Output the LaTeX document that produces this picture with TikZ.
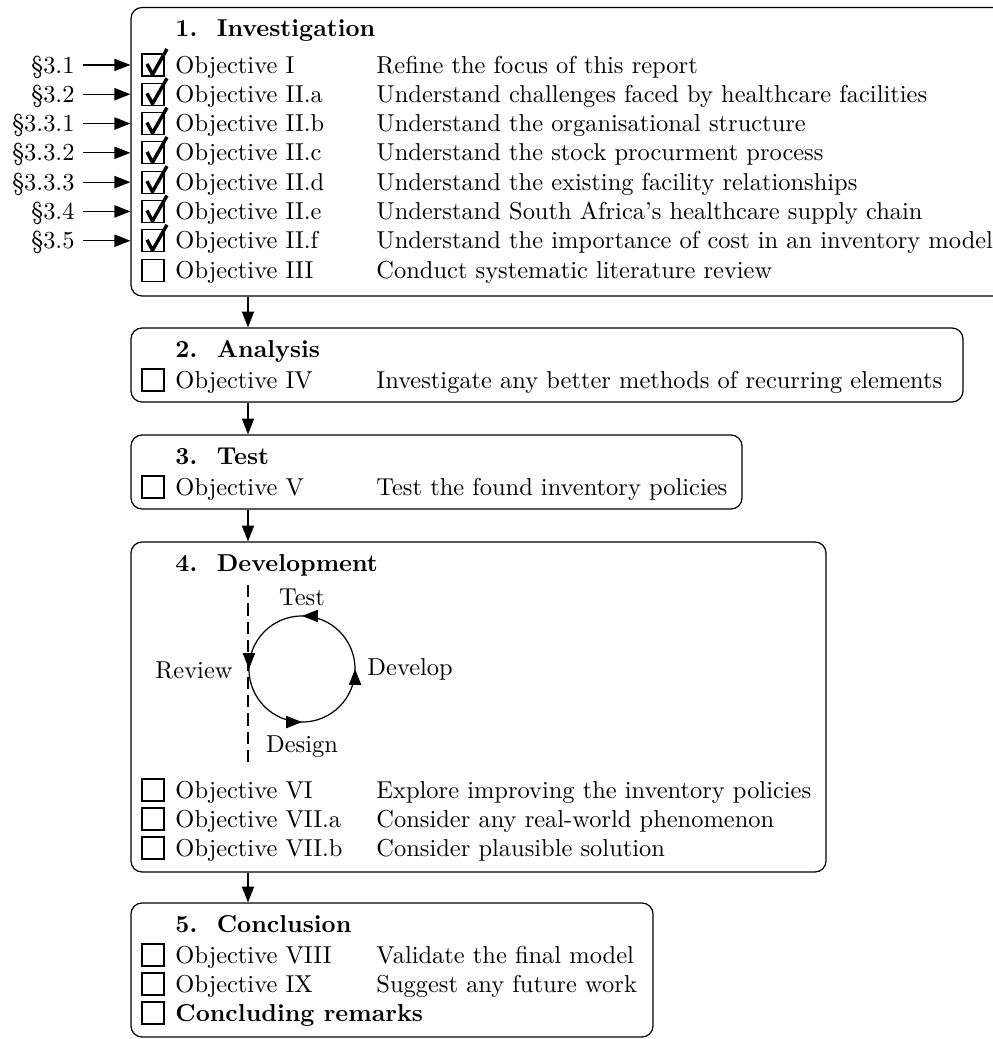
\documentclass[tikz,border=0pt]{standalone}
\usetikzlibrary{arrows.meta,fit,decorations.markings}

% one objective row: empty box, objective name, description
\newcommand\objrow[4]{%
  \draw[cbox] (142,#2-19) rectangle (164,#2+3);
  \node[txt] (#1l) at (175,#2) {#3};
  \node[txt] (#1d) at (376,#2) {#4};
}
% tick drawn over the box of a finished objective
\newcommand\drawcheck[1]{%
  \draw[tickline] (147,#1-9) -- (152.5,#1+1.5) -- (167,#1-24);
}

\begin{document}
\begin{tikzpicture}[x=0.409pt,y=-0.409pt,
  panel/.style={draw, rounded corners=4.5pt, inner sep=0pt, line width=0.5pt},
  arr/.style={-{Triangle[length=6.5pt,width=5pt]}, line width=0.5pt},
  txt/.style={anchor=base west, inner sep=0pt},
  ttl/.style={anchor=base west, inner sep=0pt, font=\bfseries},
  sec/.style={anchor=base east, inner sep=0pt},
  cbox/.style={draw, line width=0.45pt},
  tickline/.style={line width=1.4pt, line join=round},
  guide/.style={dash pattern=on 5pt off 2.5pt, line width=0.45pt},
  cyc/.style={inner sep=0pt},
  cycle arrows/.style={line width=0.5pt, postaction={decorate}, decoration={markings,
    mark=at position 0.25 with {\arrow{Triangle[length=6.5pt,width=5pt]}},
    mark=at position 0.5 with {\arrow{Triangle[length=6.5pt,width=5pt]}},
    mark=at position 0.75 with {\arrow{Triangle[length=6.5pt,width=5pt]}},
    mark=at position 0.9999 with {\arrow{Triangle[length=6.5pt,width=5pt]}}}}
]
\useasboundingbox (0,0) rectangle (992,1039);

% ---------- panels ----------
\node[panel, fit={(131,7.5) (1013,296)}] (b1) {};
\node[panel, fit={(131,328) (963,402)}] (b2) {};
\node[panel, fit={(131,435) (742,509)}] (b3) {};
\node[panel, fit={(131,542) (826,872)}] (b4) {};
\node[panel, fit={(131,903) (653,1037)}] (b5) {};

\coordinate (ax) at (248,0);
\draw[arr] (b1.south -| ax) -- (b2.north -| ax);
\draw[arr] (b2.south -| ax) -- (b3.north -| ax);
\draw[arr] (b3.south -| ax) -- (b4.north -| ax);
\draw[arr] (b4.south -| ax) -- (b5.north -| ax);

% ---------- 1. Investigation ----------
\node[ttl] (t1) at (175,36) {1.\hspace{0.8em}Investigation};
\objrow{r1}{73}{Objective I}{Refine the focus of this report}
\objrow{r2}{102.3}{Objective II.a}{Understand challenges faced by healthcare facilities}
\objrow{r3}{131.6}{Objective II.b}{Understand the organisational structure}
\objrow{r4}{160.9}{Objective II.c}{Understand the stock procurment process}
\objrow{r5}{190.2}{Objective II.d}{Understand the existing facility relationships}
\objrow{r6}{219.5}{Objective II.e}{Understand South Africa's healthcare supply chain}
\objrow{r7}{248.8}{Objective II.f}{Understand the importance of cost in an inventory model}
\objrow{r8}{278.1}{Objective III}{Conduct systematic literature review}
\drawcheck{73}
\drawcheck{102.3}
\drawcheck{131.6}
\drawcheck{160.9}
\drawcheck{190.2}
\drawcheck{219.5}
\drawcheck{248.8}

% section references
\node[sec] (s1) at (75,73) {\S3.1};
\node[sec] (s2) at (75,102.3) {\S3.2};
\node[sec] (s3) at (75,131.6) {\S3.3.1};
\node[sec] (s4) at (75,160.9) {\S3.3.2};
\node[sec] (s5) at (75,190.2) {\S3.3.3};
\node[sec] (s6) at (75,219.5) {\S3.4};
\node[sec] (s7) at (75,248.8) {\S3.5};
\foreach \s in {s1,s2,s3,s4,s5,s6,s7}
  \draw[arr] ([xshift=3.2pt,yshift=0.8pt]\s.east) -- ([yshift=0.8pt]\s.east -| b1.west);

% ---------- 2. Analysis ----------
\node[ttl] (t2) at (175,357) {2.\hspace{0.8em}Analysis};
\objrow{r9}{388}{Objective IV}{Investigate any better methods of recurring elements}

% ---------- 3. Test ----------
\node[ttl] (t3) at (175,464) {3.\hspace{0.8em}Test};
\objrow{r10}{495}{Objective V}{Test the found inventory policies}

% ---------- 4. Development ----------
\node[ttl] (t4) at (175,571) {4.\hspace{0.8em}Development};
\coordinate (gtop) at (248,585);
\coordinate (gbot) at (248,765);
\draw[guide] (gtop) -- (gbot);
\coordinate (cc) at (302,669);
% review cycle, running anticlockwise with a tip at each quarter
\draw[cycle arrows] ([shift={(0:21.7pt)}]cc) arc[start angle=0,end angle=360,radius=21.7pt];
\node[cyc] (ctest) at (302,597) {Test};
\node[cyc, anchor=east] (crev) at (233,670) {Review};
\node[cyc, anchor=west] (cdev) at (367,669) {Develop};
\node[cyc] (cdes) at (302,747) {Design};
\objrow{r11}{798}{Objective VI}{Explore improving the inventory policies}
\objrow{r12}{827}{Objective VII.a}{Consider any real-world phenomenon}
\objrow{r13}{856}{Objective VII.b}{Consider plausible solution}

% ---------- 5. Conclusion ----------
\node[ttl] (t5) at (175,932) {5.\hspace{0.8em}Conclusion};
\objrow{r14}{963}{Objective VIII}{Validate the final model}
\objrow{r15}{992}{Objective IX}{Suggest any future work}
\draw[cbox] (142,1021-19) rectangle (164,1021+3);
\node[ttl] (r16l) at (175,1021) {Concluding remarks};
\end{tikzpicture}
\end{document}
